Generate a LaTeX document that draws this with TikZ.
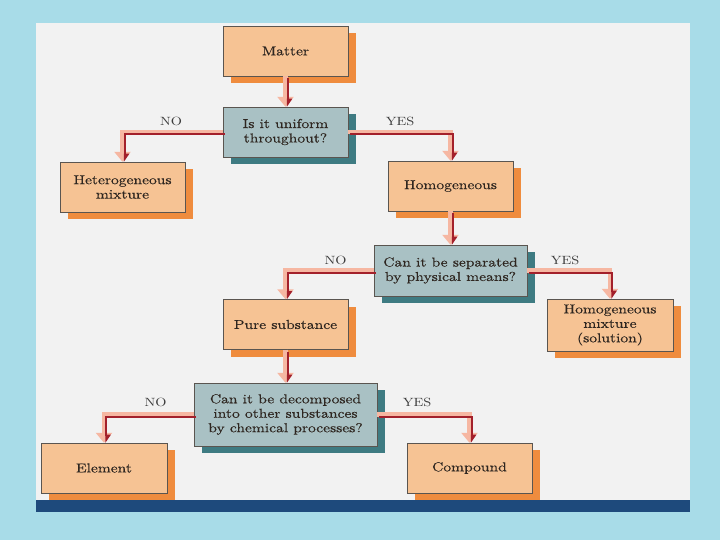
\documentclass[tikz,border=0pt]{standalone}
\usepackage{fontspec}
\usetikzlibrary{arrows.meta,shadows}
\definecolor{boxfill}{HTML}{F6C394}
\definecolor{boxshade}{HTML}{EF8C3E}
\definecolor{askfill}{HTML}{A9C1C4}
\definecolor{askshade}{HTML}{3E7B82}
\definecolor{edge}{HTML}{5A5550}
\definecolor{paleline}{HTML}{F6B7A2}
\definecolor{darkline}{HTML}{A3202B}
\definecolor{panel}{HTML}{F2F2F2}
\definecolor{water}{HTML}{A8DCE8}
\definecolor{band}{HTML}{1E4A7C}
\definecolor{ink}{HTML}{2E2620}
\definecolor{tagink}{HTML}{3C3C3C}
\newfontfamily\widefamily{lmroman10-regular.otf}[FakeStretch=1.2, FakeBold=0.35]
\newfontfamily\tagfamily{lmroman10-regular.otf}[FakeStretch=1.2]
\newcommand\boxfont{\widefamily\fontsize{13}{14.5}\selectfont}
\newcommand\tagfont{\tagfamily\fontsize{12}{13}\selectfont}
\tikzset{
  card/.style={draw=edge, align=center, minimum width=125bp, minimum height=50bp,
    inner sep=2bp, text=ink, font=\boxfont},
  answer/.style={card, fill=boxfill,
    drop shadow={shadow xshift=8bp, shadow yshift=-7bp, fill=boxshade, opacity=1}},
  question/.style={card, fill=askfill,
    drop shadow={shadow xshift=8bp, shadow yshift=-7bp, fill=askshade, opacity=1}},
  tag/.style={text=tagink, font=\tagfont, inner sep=1bp},
  flow/.style={draw=paleline, line width=4.5bp, -{Triangle[width=16bp,length=10bp]},
    postaction={draw=darkline, line width=1.8bp, shorten >=2bp,
      transform canvas={shift={(2.2bp,-2.2bp)}}, -{Triangle[harpoon,width=9bp,length=7bp]}}}
}
\begin{document}
\begin{tikzpicture}[x=1bp, y=-1bp]
\useasboundingbox (0,0) rectangle (720,540);
\fill[water] (0,0) rectangle (720,540);
\fill[panel] (36,23) rectangle (690,500);
\fill[band] (36,500) rectangle (690,512);

% boxes
\node[answer] (matter) at (285.5,51) {Matter};
\node[question] (uniform) at (285.5,132) {Is it uniform\\throughout?};
\node[answer] (hetero) at (122.5,187) {Heterogeneous\\mixture};
\node[answer] (homog) at (450.5,186) {Homogeneous};
\node[question, minimum width=153bp, minimum height=51bp] (separated) at (450.5,270.5) {Can it be separated\\by physical means?};
\node[answer] (pure) at (285.5,324.5) {Pure substance};
\node[answer, minimum width=126bp, minimum height=52bp] (solution) at (610,325) {Homogeneous\\mixture\\(solution)};
\node[question, minimum width=183bp, minimum height=63bp] (decomposed) at (285.5,414.5) {Can it be decomposed\\into other substances\\by chemical processes?};
\node[answer, minimum width=126bp] (element) at (104,468) {Element};
\node[answer] (compound) at (469.5,468) {Compound};

% answers on the branches
\node[tag] (no1) at (171,121) {NO};
\node[tag] (yes1) at (400,121.5) {YES};
\node[tag] (no2) at (335.5,260) {NO};
\node[tag] (yes2) at (565,260) {YES};
\node[tag] (no3) at (155.5,402.5) {NO};
\node[tag] (yes3) at (417,402.5) {YES};

% connectors
\draw[flow] (matter) -- (uniform);
\draw[flow] (uniform.west) -| (hetero.north);
\draw[flow] (uniform.east) -| (homog.north);
\draw[flow] (homog) -- (separated);
\draw[flow] (separated.west) -| (pure.north);
\draw[flow] (separated.east) -| (solution.north);
\draw[flow] (pure) -- (decomposed);
\draw[flow] (decomposed.west) -| (element.north);
\draw[flow] (decomposed.east) -| (compound.north);
\end{tikzpicture}
\end{document}
